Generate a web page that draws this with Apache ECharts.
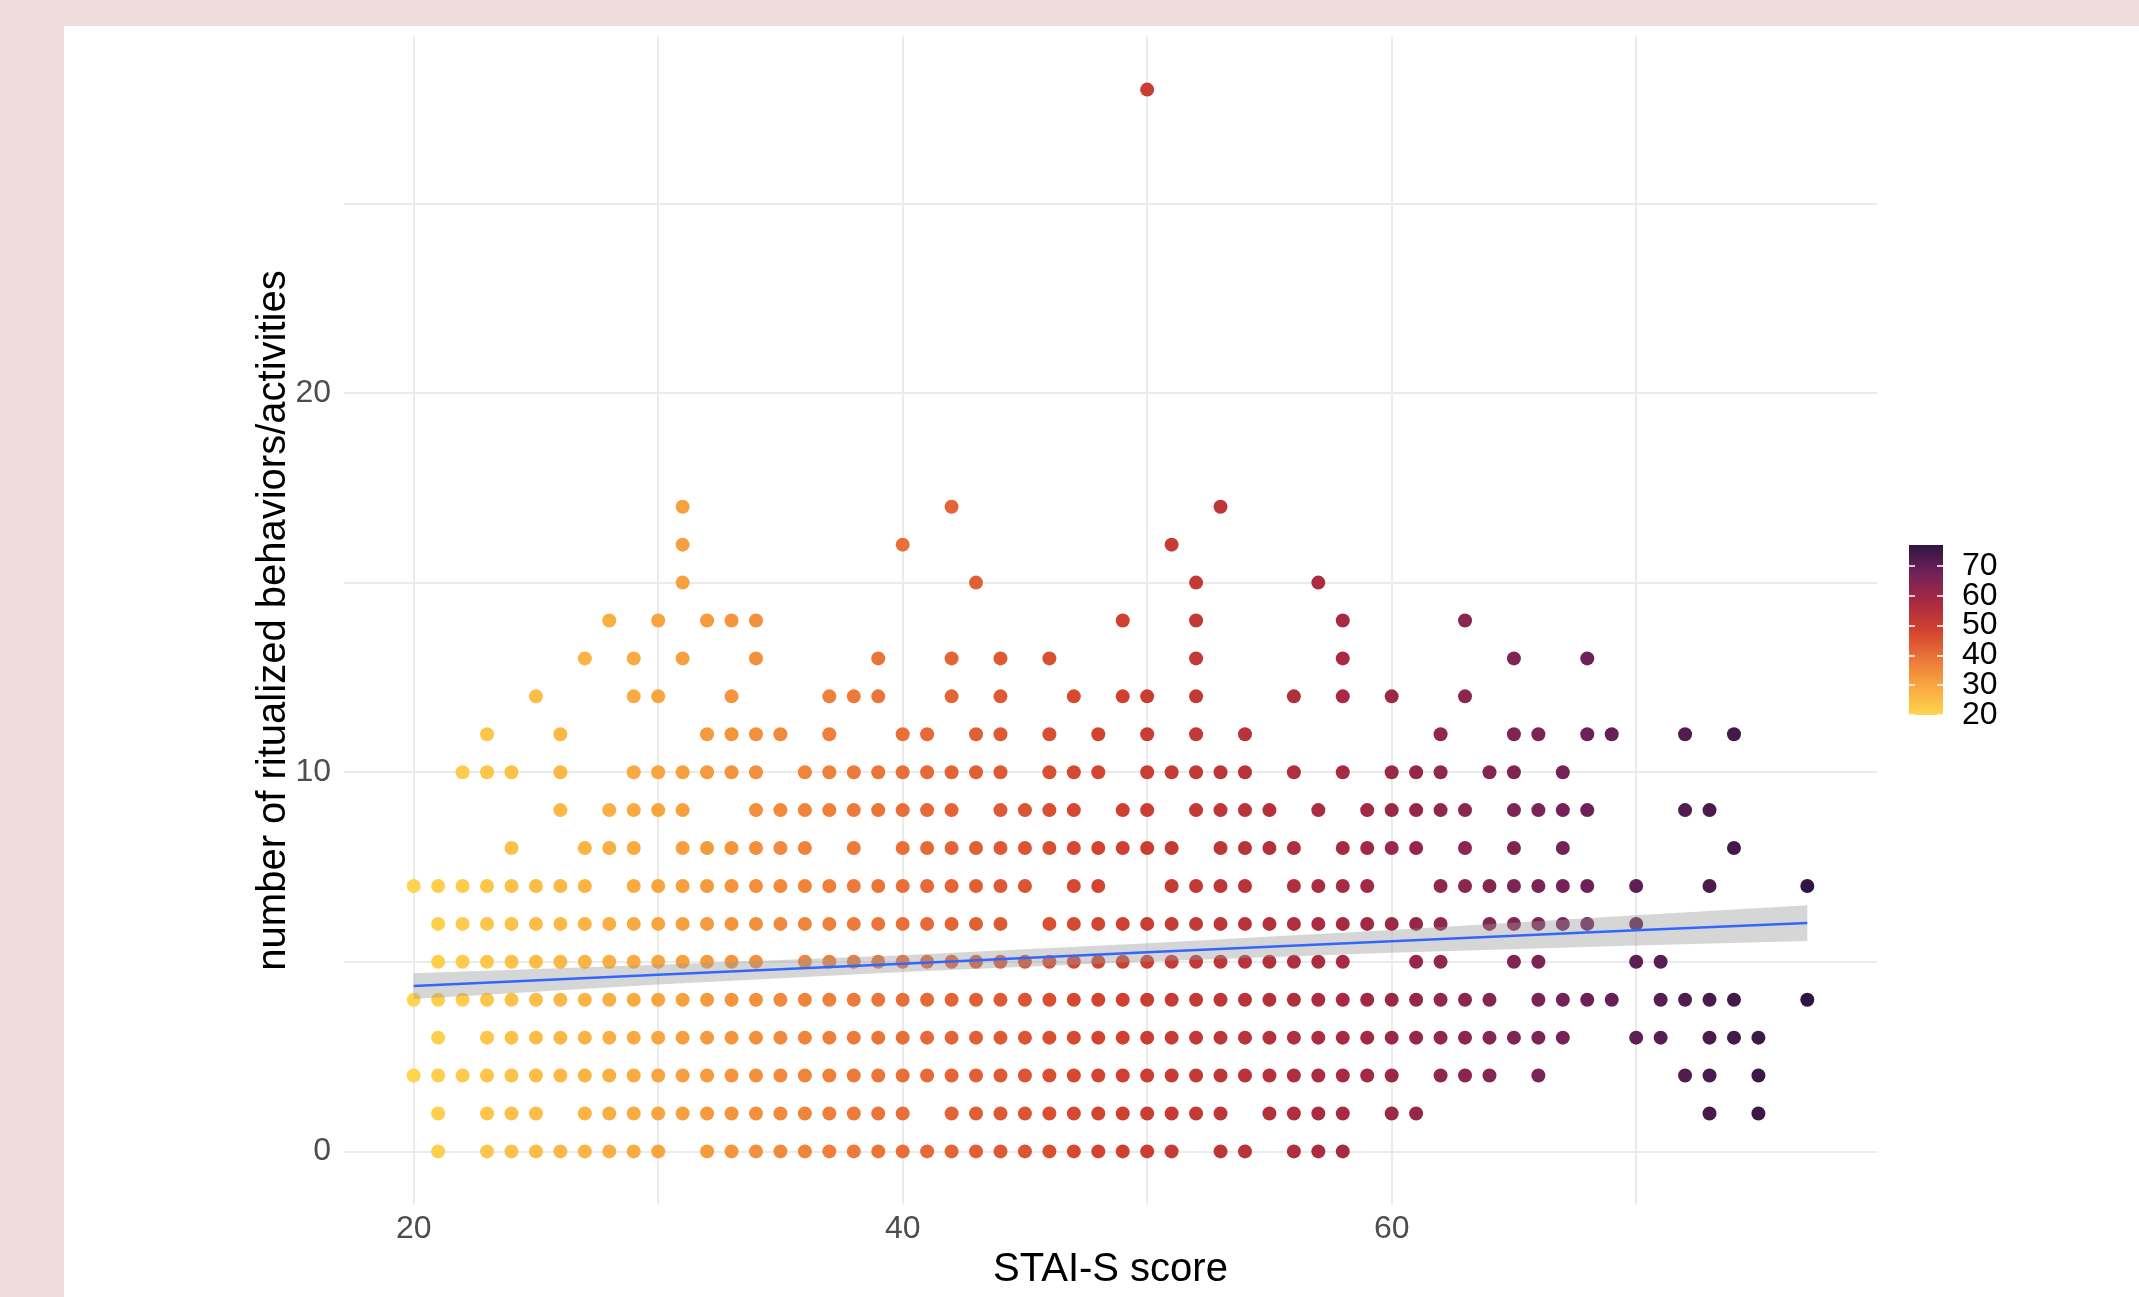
<!DOCTYPE html>
<html>
<head>
    <meta charset="utf-8">
    <title>STAI-S score vs ritualized behaviors</title>
    <script src="https://cdn.jsdelivr.net/npm/echarts@6/dist/echarts.min.js"></script>
    <style>
        html, body { margin: 0; padding: 0; background: #efdcdc; }
        #panel { position: absolute; left: 64px; top: 26px; right: 0; bottom: 0; background: #ffffff; }
        #chart { position: absolute; left: 0; top: 0; width: 2139px; height: 1297px; }
    </style>
</head>
<body>
<div id="panel"></div>
<div id="chart"></div>

<script type="text/javascript">

    // STAI-S scores that have a point at each count of ritualized behaviors (count = suffix)
    var scoresAt0 = [21, 23, 24, 25, 26, 27, 28, 29, 30, 32, 33, 34, 35, 36, 37, 38, 39, 40, 41, 42, 43, 44, 45, 46, 47, 48, 49, 50, 51, 53, 54, 56, 57, 58];
    var scoresAt1 = [21, 23, 24, 25, 27, 28, 29, 30, 31, 32, 33, 34, 35, 36, 37, 38, 39, 40, 42, 43, 44, 45, 46, 47, 48, 49, 50, 51, 52, 53, 55, 56, 57, 58, 60, 61, 73, 75];
    var scoresAt2 = [20, 21, 22, 23, 24, 25, 26, 27, 28, 29, 30, 31, 32, 33, 34, 35, 36, 37, 38, 39, 40, 41, 42, 43, 44, 45, 46, 47, 48, 49, 50, 51, 52, 53, 54, 55, 56, 57, 58, 59, 60, 62, 63, 64, 66, 72, 73, 75];
    var scoresAt3 = [21, 23, 24, 25, 26, 27, 28, 29, 30, 31, 32, 33, 34, 35, 36, 37, 38, 39, 40, 41, 42, 43, 44, 45, 46, 47, 48, 49, 50, 51, 52, 53, 54, 55, 56, 57, 58, 59, 60, 61, 62, 63, 64, 65, 66, 67, 70, 71, 73, 74, 75];
    var scoresAt4 = [20, 21, 22, 23, 24, 25, 26, 27, 28, 29, 30, 31, 32, 33, 34, 35, 36, 37, 38, 39, 40, 41, 42, 43, 44, 45, 46, 47, 48, 49, 50, 51, 52, 53, 54, 55, 56, 57, 58, 59, 60, 61, 62, 63, 64, 66, 67, 68, 69, 71, 72, 73, 74, 77];
    var scoresAt5 = [21, 22, 23, 24, 25, 26, 27, 28, 29, 30, 31, 32, 33, 34, 36, 37, 38, 39, 40, 41, 42, 43, 44, 45, 46, 47, 48, 49, 50, 51, 52, 53, 54, 55, 56, 57, 58, 61, 62, 65, 66, 70, 71];
    var scoresAt6 = [21, 22, 23, 24, 25, 26, 27, 28, 29, 30, 31, 32, 33, 34, 35, 36, 37, 38, 39, 40, 41, 42, 43, 44, 46, 47, 48, 49, 50, 51, 52, 53, 54, 55, 56, 57, 58, 59, 60, 61, 62, 64, 65, 66, 67, 68, 70];
    var scoresAt7 = [20, 21, 22, 23, 24, 25, 26, 27, 29, 30, 31, 32, 33, 34, 35, 36, 37, 38, 39, 40, 41, 42, 43, 44, 45, 47, 48, 51, 52, 53, 54, 56, 57, 58, 59, 62, 63, 64, 65, 66, 67, 68, 70, 73, 77];
    var scoresAt8 = [24, 27, 28, 29, 31, 32, 33, 34, 35, 36, 38, 40, 41, 42, 43, 44, 45, 46, 47, 48, 49, 50, 51, 53, 54, 55, 56, 58, 59, 60, 61, 63, 65, 67, 74];
    var scoresAt9 = [26, 28, 29, 30, 31, 34, 35, 36, 37, 38, 39, 40, 41, 42, 44, 45, 46, 47, 49, 50, 52, 53, 54, 55, 57, 59, 60, 61, 62, 63, 65, 66, 67, 68, 72, 73];
    var scoresAt10 = [22, 23, 24, 26, 29, 30, 31, 32, 33, 34, 36, 37, 38, 39, 40, 41, 42, 43, 44, 46, 47, 48, 50, 51, 52, 53, 54, 56, 58, 60, 61, 62, 64, 65, 67];
    var scoresAt11 = [23, 26, 32, 33, 34, 35, 37, 40, 41, 43, 44, 46, 48, 50, 52, 54, 62, 65, 66, 68, 69, 72, 74];
    var scoresAt12 = [25, 29, 30, 33, 37, 38, 39, 42, 44, 47, 49, 50, 52, 56, 58, 60, 63];
    var scoresAt13 = [27, 29, 31, 34, 39, 42, 44, 46, 52, 58, 65, 68];
    var scoresAt14 = [28, 30, 32, 33, 34, 49, 52, 58, 63];
    var scoresAt15 = [31, 43, 52, 57];
    var scoresAt16 = [31, 40, 51];
    var scoresAt17 = [31, 42, 53];
    var scoresAt28 = [50];

    var countLevels = [0, 1, 2, 3, 4, 5, 6, 7, 8, 9, 10, 11, 12, 13, 14, 15, 16, 17, 28];
    var scoreLists = [scoresAt0, scoresAt1, scoresAt2, scoresAt3, scoresAt4, scoresAt5, scoresAt6,
        scoresAt7, scoresAt8, scoresAt9, scoresAt10, scoresAt11, scoresAt12, scoresAt13,
        scoresAt14, scoresAt15, scoresAt16, scoresAt17, scoresAt28];

    // linear fit (geom_smooth, method = lm) and its confidence band
    var fitX = [20, 30, 40, 50, 60, 70, 77];
    var fitY = [4.36, 4.66, 4.95, 5.25, 5.54, 5.83, 6.02];
    var bandLow = [4.02, 4.40, 4.73, 5.01, 5.24, 5.43, 5.55];
    var bandHigh = [4.70, 4.92, 5.17, 5.49, 5.84, 6.23, 6.49];

    // axes
    var xGridLines = [20, 30, 40, 50, 60, 70];
    var xTickLabels = [20, 40, 60];
    var yGridLines = [0, 5, 10, 15, 20, 25];
    var yTickLabels = [0, 10, 20];

    // colour scale (score 20 -> 77)
    var scoreMin = 20, scoreMax = 77;
    var legendTicks = [20, 30, 40, 50, 60, 70];
    // labels are split over two axes so that none of them gets hidden for overlapping
    var legendLabelsA = [20, 40, 60];
    var legendLabelsB = [30, 50, 70];
    var scoreColors = ['#ffd44f', '#f9a840', '#eb7539', '#d1412f', '#a72a42', '#712259', '#2e1542'];

    var points = [];
    for (var i = 0; i < countLevels.length; i++) {
        for (var j = 0; j < scoreLists[i].length; j++) {
            points.push([scoreLists[i][j], countLevels[i]]);
        }
    }

    var fitLine = fitX.map(function (x, k) { return [x, fitY[k]]; });
    var bandData = fitX.map(function (x, k) { return [x, bandLow[k], bandHigh[k]]; });

    // gradient for the colour bar, top = highest score
    var barStops = scoreColors.slice().reverse().map(function (c, k, arr) {
        return {offset: k / (arr.length - 1), color: c};
    });

    var fontFamily = '"Liberation Sans", Arial, sans-serif';

    function legendAxis(position, ticks, labels) {
        return {
            gridIndex: 1,
            type: 'value',
            position: position,
            min: scoreMin,
            max: scoreMax,
            z: 5,
            axisLine: {show: false},
            axisTick: {
                show: ticks != null, inside: true, length: 6, customValues: ticks || legendTicks,
                lineStyle: {color: '#ffffff', width: 1.5}
            },
            axisLabel: labels ? {
                customValues: labels, color: '#000000', fontSize: 32, margin: 19,
                showMinLabel: true, showMaxLabel: true, hideOverlap: false
            } : {show: false},
            splitLine: {show: false}
        };
    }

    var myChart = echarts.init(document.getElementById('chart'));
    var option = {
        animation: false,
        backgroundColor: 'transparent',
        textStyle: {fontFamily: fontFamily},
        grid: [
            {left: 344, top: 36.5, width: 1533, height: 1168},
            {left: 1909, top: 545, width: 34, height: 170}
        ],
        visualMap: {
            show: false,
            type: 'continuous',
            dimension: 0,
            seriesIndex: 0,
            min: scoreMin,
            max: scoreMax,
            inRange: {color: scoreColors}
        },
        xAxis: [
            {
                gridIndex: 0,
                type: 'value',
                min: 17.15,
                max: 79.85,
                axisLine: {show: false},
                axisTick: {show: false, customValues: xGridLines},
                axisLabel: {customValues: xTickLabels, color: '#4d4d4d', fontSize: 32, margin: 9},
                splitLine: {show: true, lineStyle: {color: '#ebebeb', width: 2}},
                name: 'STAI-S score',
                nameLocation: 'middle',
                nameGap: 43,
                nameTextStyle: {color: '#000000', fontSize: 40}
            },
            {
                gridIndex: 1,
                type: 'value',
                min: 0,
                max: 1,
                show: false
            }
        ],
        yAxis: [
            {
                gridIndex: 0,
                type: 'value',
                min: -1.4,
                max: 29.4,
                axisLine: {show: false},
                axisTick: {show: false, customValues: yGridLines},
                axisLabel: {customValues: yTickLabels, color: '#4d4d4d', fontSize: 32, margin: 13},
                splitLine: {show: true, lineStyle: {color: '#ebebeb', width: 2}},
                name: 'number of ritualized behaviors/activities',
                nameLocation: 'middle',
                nameGap: 50,
                nameMoveOverlap: false,
                nameTextStyle: {color: '#000000', fontSize: 40}
            },
            legendAxis('left', legendTicks, null),
            legendAxis('right', legendTicks, legendLabelsA),
            legendAxis('right', null, legendLabelsB)
        ],
        series: [
            {
                type: 'scatter',
                xAxisIndex: 0,
                yAxisIndex: 0,
                symbol: 'circle',
                symbolSize: 14,
                itemStyle: {opacity: 1},
                z: 2,
                data: points
            },
            {
                type: 'custom',
                xAxisIndex: 0,
                yAxisIndex: 0,
                z: 3,
                silent: true,
                data: bandData,
                encode: {x: 0, y: [1, 2]},
                renderItem: function (params, api) {
                    if (params.dataIndex !== 0) {
                        return;
                    }
                    var upper = [], lower = [];
                    for (var k = 0; k < fitX.length; k++) {
                        upper.push(api.coord([fitX[k], bandHigh[k]]));
                        lower.unshift(api.coord([fitX[k], bandLow[k]]));
                    }
                    return {
                        type: 'polygon',
                        shape: {points: upper.concat(lower)},
                        style: {fill: 'rgba(153,153,153,0.4)'}
                    };
                }
            },
            {
                type: 'line',
                xAxisIndex: 0,
                yAxisIndex: 0,
                z: 4,
                symbol: 'none',
                silent: true,
                lineStyle: {color: '#3366ff', width: 2.5},
                data: fitLine
            },
            {
                type: 'custom',
                xAxisIndex: 1,
                yAxisIndex: 1,
                z: 2,
                silent: true,
                data: [[0, scoreMin, scoreMax]],
                renderItem: function (params, api) {
                    var topLeft = api.coord([0, scoreMax]);
                    var bottomRight = api.coord([1, scoreMin]);
                    return {
                        type: 'rect',
                        shape: {
                            x: topLeft[0],
                            y: topLeft[1],
                            width: bottomRight[0] - topLeft[0],
                            height: bottomRight[1] - topLeft[1]
                        },
                        style: {fill: new echarts.graphic.LinearGradient(0, 0, 0, 1, barStops)}
                    };
                }
            }
        ]
    };
    myChart.setOption(option);

</script>
</body>
</html>
